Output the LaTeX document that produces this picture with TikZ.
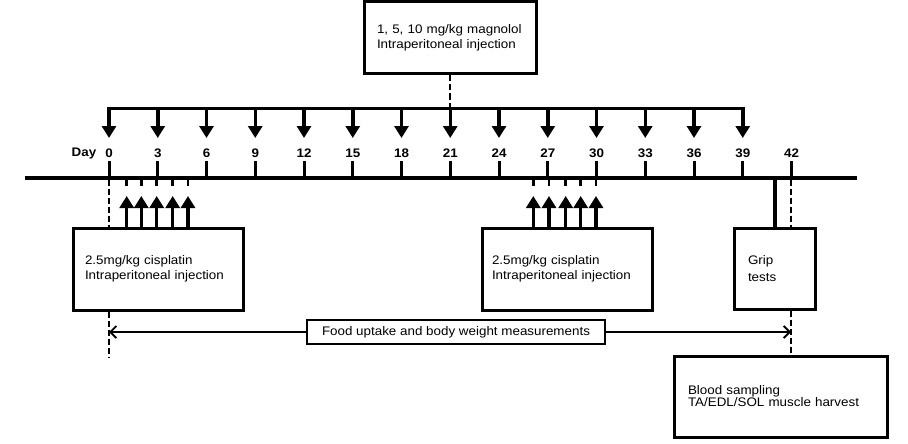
\documentclass[tikz,border=0pt]{standalone}
\usepackage{fontspec}
\setmainfont[FakeStretch=1.08]{Liberation Sans}
\usetikzlibrary{arrows.meta}
\begin{document}
\begin{tikzpicture}[x=1pt,y=-1pt,
  box/.style={draw, line width=3pt, align=left, inner ysep=0pt, font=\fontsize{12.4}{15.5}\selectfont},
  dashln/.style={line width=1.5pt, dash pattern=on 6pt off 3pt},
  downarr/.style={line width=3.5pt, -{Triangle[width=14pt,length=12pt]}},
  uparr/.style={line width=3.5pt, -{Triangle[width=14pt,length=12pt]}},
  daytick/.style={line width=3pt},
  stub/.style={line width=2.5pt},
  daylbl/.style={font=\fontsize{12.4}{13}\selectfont\bfseries, inner sep=0pt},
  barb/.tip={Straight Barb[length=6pt,width=12pt]},
]
\useasboundingbox (0,0) rectangle (908,444);

% boxes
\node[box, text width=146pt, inner xsep=13pt, minimum height=72pt] (mag) at (450,38)
  {1, 5, 10 mg/kg magnolol\\Intraperitoneal injection};
\node[box, text width=146pt, inner xsep=12pt, minimum height=82pt] (cis1) at (158,269)
  {2.5mg/kg cisplatin\\Intraperitoneal injection};
\node[box, text width=150pt, inner xsep=10pt, minimum height=82pt] (cis2) at (567,269)
  {2.5mg/kg cisplatin\\Intraperitoneal injection};
\node[box, text width=53pt, inner xsep=14pt, minimum height=81pt, font=\fontsize{12.4}{16.5}\selectfont] (grip) at (774.5,268.5)
  {Grip\\tests};
\node[box, text width=185pt, inner xsep=14pt, minimum height=81pt, font=\fontsize{12.4}{12}\selectfont] (blood) at (780.5,396.5)
  {Blood sampling\\TA/EDL/SOL muscle harvest};

% key coordinates
\coordinate (tlA) at (25,177.5);
\coordinate (tlB) at (857,177.5);
\coordinate (dlA) at (107.5,108);
\coordinate (dlB) at (744.5,108);
\coordinate (day0) at (109,179.5);
\coordinate (day42) at (791,179.5);
\coordinate (end0) at (109,357);
\coordinate (gripx) at (775,179.5);
\coordinate (fA) at (109,332);
\coordinate (fB) at (791,332);

% timeline
\draw[line width=4pt] (tlA) -- (tlB);
% distribution line
\draw[line width=3pt] (dlA) -- (dlB);
\draw[dashln] (mag.south) -- (mag.south |- dlA);

% down arrows
\foreach \d in {0,3,...,39} {
  \coordinate (da\d) at ({109+16.25*\d},106.5);
  \coordinate (db\d) at ({109+16.25*\d},138);
  \draw[downarr] (da\d) -- (db\d);
}
% ticks and labels
\node[daylbl] (daylabel) at (84,153.5) {Day};
\foreach \d in {0,3,...,42} {
  \coordinate (ta\d) at ({109+16.25*\d},161);
  \coordinate (tb\d) at ({109+16.25*\d},177);
  \draw[daytick] (ta\d) -- (tb\d);
  \node[daylbl] (dl\d) at ({109+16.25*\d},153.5) {\d};
}

% cisplatin arrows
\foreach \x [count=\i] in {126.7,141.3,156.7,172.7,188,533.3,549,565.7,580.7,596} {
  \coordinate (sa\i) at (\x,179);
  \coordinate (sb\i) at (\x,186);
  \coordinate (ua\i) at (\x,229);
  \coordinate (ub\i) at (\x,196);
  \draw[stub] (sa\i) -- (sb\i);
  \draw[uparr] (ua\i) -- (ub\i);
}

% dashed verticals
\draw[dashln] (day0) -- (day0 |- cis1.north);
\draw[dashln] (day0 |- cis1.south) -- (end0);
\draw[dashln] (day42) -- (day42 |- grip.north);
\draw[dashln] (day42 |- grip.south) -- (day42 |- blood.north);
\draw[line width=4pt] (gripx) -- (gripx |- grip.north);

% measurement span
\draw[line width=1.8pt, barb-barb] (fA) -- (fB);
\node[draw, fill=white, line width=2.5pt, minimum width=298pt, minimum height=24pt, inner sep=0pt,
  font=\fontsize{12.4}{13}\selectfont] (food) at (456,332) {Food uptake and body weight measurements};
\end{tikzpicture}
\end{document}
